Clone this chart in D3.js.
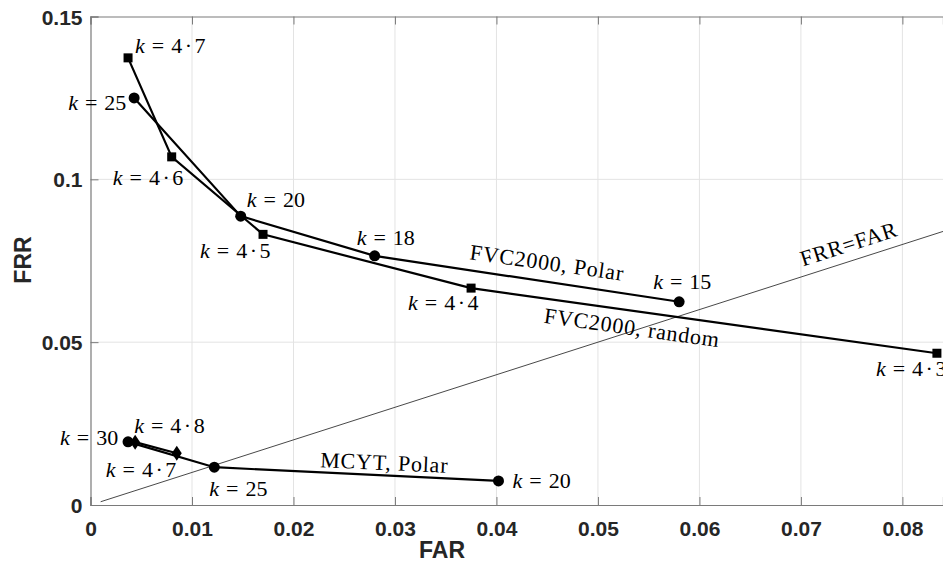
<!DOCTYPE html>
<html lang="en">
<head>
  <meta charset="UTF-8" />
  <title>FAR vs FRR</title>
  <style>
    body { margin: 0; background: #fff; }
    .tick-label { font-family: "Liberation Sans", Arial, sans-serif; font-weight: bold; font-size: 21px; fill: #262626; }
    .axis-title { font-family: "Liberation Sans", Arial, sans-serif; font-weight: bold; font-size: 23px; fill: #262626; }
    .note { font-family: "Liberation Serif", "Times New Roman", serif; font-size: 22px; fill: #000; }
    .data-line { fill: none; stroke: #000; stroke-width: 2.2px; }
  </style>
</head>
<body>
  <script src="https://cdn.jsdelivr.net/npm/d3@7"></script>
  <script>
    // values
    var xTicks = [0, 0.01, 0.02, 0.03, 0.04, 0.05, 0.06, 0.07, 0.08];
    var xTickLabels = ["0", "0.01", "0.02", "0.03", "0.04", "0.05", "0.06", "0.07", "0.08"];
    var yTicks = [0, 0.05, 0.1, 0.15];
    var yTickLabels = ["0", "0.05", "0.1", "0.15"];

    var fvcRandomFAR = [0.0037, 0.0080, 0.0170, 0.0375, 0.0834];
    var fvcRandomFRR = [0.1373, 0.1069, 0.0831, 0.0666, 0.0466];
    var fvcRandomK = ["4·7", "4·6", "4·5", "4·4", "4·3"];

    var fvcPolarFAR = [0.0043, 0.0148, 0.0280, 0.0580];
    var fvcPolarFRR = [0.1250, 0.0887, 0.0765, 0.0624];
    var fvcPolarK = ["25", "20", "18", "15"];

    var mcytPolarFAR = [0.0037, 0.0122, 0.0402];
    var mcytPolarFRR = [0.0194, 0.0116, 0.0074];
    var mcytPolarK = ["30", "25", "20"];

    var mcytRandomFAR = [0.0044, 0.0085];
    var mcytRandomFRR = [0.0193, 0.0159];
    var mcytRandomK = ["4·8", "4·7"];

    var equalRate = [0.001, 0.09];

    // label offsets from the marker, in pixels
    var fvcRandomOff = [[7, -5], [-59, 28], [-63, 24], [-63, 22], [-61, 23]];
    var fvcPolarOff = [[-66, 12], [6, -9], [-18, -11], [-26, -13]];
    var mcytPolarOff = [[-68, 3], [-5, 29], [14, 7]];
    var mcytRandomOff = [[-1, -9], [-71, 24]];

    var w = 943;
    var h = 565;
    var margin = { top: 16.5, right: 0, bottom: 60, left: 90.5 };

    var svg = d3.select("body").append("svg")
      .attr("width", w)
      .attr("height", h);

    var xScale = d3.scaleLinear().domain([0, 0.084]).range([margin.left, w - margin.right]);
    var yScale = d3.scaleLinear().domain([0, 0.15]).range([h - margin.bottom, margin.top]);

    svg.append("clipPath").attr("id", "plot-clip")
      .append("rect")
      .attr("x", margin.left).attr("y", margin.top)
      .attr("width", w - margin.left - margin.right)
      .attr("height", yScale(0) - margin.top);

    // grid
    svg.selectAll(".vgrid").data(xTicks.slice(1)).enter().append("line")
      .attr("x1", function(d) { return xScale(d); })
      .attr("x2", function(d) { return xScale(d); })
      .attr("y1", yScale(0)).attr("y2", yScale(0.15))
      .attr("stroke", "#e3e3e3").attr("stroke-width", 1);
    svg.selectAll(".hgrid").data(yTicks.slice(1, 3)).enter().append("line")
      .attr("y1", function(d) { return yScale(d); })
      .attr("y2", function(d) { return yScale(d); })
      .attr("x1", xScale(0)).attr("x2", w)
      .attr("stroke", "#e3e3e3").attr("stroke-width", 1);

    // axes built by d3 then restyled
    var xAxis = d3.axisBottom(xScale).tickValues(xTicks).tickSize(-8).tickFormat(function(d, i) { return xTickLabels[i]; });
    var xTop = d3.axisTop(xScale).tickValues(xTicks).tickSize(-8).tickFormat("");
    var yAxis = d3.axisLeft(yScale).tickValues(yTicks).tickSize(-8).tickFormat(function(d, i) { return yTickLabels[i]; });

    var gx = svg.append("g").attr("transform", "translate(0," + yScale(0) + ")").call(xAxis);
    var gt = svg.append("g").attr("transform", "translate(0," + yScale(0.15) + ")").call(xTop);
    var gy = svg.append("g").attr("transform", "translate(" + xScale(0) + ",0)").call(yAxis);

    [gx, gt, gy].forEach(function(g) {
      g.select(".domain").attr("stroke", "#7a7a7a").attr("stroke-width", 1.2);
      g.selectAll(".tick line").attr("stroke", "#7a7a7a");
      g.selectAll("text").attr("class", "tick-label").attr("font-size", null).attr("font-family", null).attr("fill", null);
    });
    gx.selectAll(".tick text").attr("y", 31).attr("dy", null);
    gy.selectAll(".tick text").attr("x", -8).attr("dy", "0.36em");

    svg.append("text").attr("class", "axis-title")
      .attr("x", 442).attr("y", 558)
      .attr("text-anchor", "middle")
      .text("FAR");
    svg.append("text").attr("class", "axis-title")
      .attr("transform", "translate(30.5,260) rotate(-90)")
      .attr("text-anchor", "middle")
      .text("FRR");

    // FRR = FAR reference line
    svg.append("line")
      .attr("clip-path", "url(#plot-clip)")
      .attr("x1", xScale(equalRate[0])).attr("y1", yScale(equalRate[0]))
      .attr("x2", xScale(equalRate[1])).attr("y2", yScale(equalRate[1]))
      .attr("stroke", "#333").attr("stroke-width", 0.9);

    function pts(xs, ys, ks) {
      return xs.map(function(x, i) { return { x: x, y: ys[i], k: ks[i] }; });
    }

    var line = d3.line()
      .x(function(d) { return xScale(d.x); })
      .y(function(d) { return yScale(d.y); });

    var series = [
      { data: pts(fvcRandomFAR, fvcRandomFRR, fvcRandomK), marker: "square", off: fvcRandomOff },
      { data: pts(fvcPolarFAR, fvcPolarFRR, fvcPolarK), marker: "circle", off: fvcPolarOff },
      { data: pts(mcytRandomFAR, mcytRandomFRR, mcytRandomK), marker: "diamond", off: mcytRandomOff },
      { data: pts(mcytPolarFAR, mcytPolarFRR, mcytPolarK), marker: "circle", off: mcytPolarOff }
    ];

    series.forEach(function(s) {
      svg.append("path").datum(s.data).attr("class", "data-line").attr("d", line);
    });

    series.forEach(function(s) {
      var g = svg.append("g");
      s.data.forEach(function(d) {
        var cx = xScale(d.x), cy = yScale(d.y);
        if (s.marker == "circle") {
          g.append("circle").attr("cx", cx).attr("cy", cy).attr("r", 5.5).attr("fill", "#000");
        } else if (s.marker == "square") {
          g.append("rect").attr("x", cx - 4.5).attr("y", cy - 4.5).attr("width", 9).attr("height", 9).attr("fill", "#000");
        } else {
          g.append("path")
            .attr("d", "M" + cx + "," + (cy - 7.5) + "L" + (cx + 5) + "," + cy + "L" + cx + "," + (cy + 7.5) + "L" + (cx - 5) + "," + cy + "Z")
            .attr("fill", "#000");
        }
      });
    });

    // k = ... annotations
    function kLabel(x, y, value) {
      var t = svg.append("text").attr("class", "note").attr("x", x).attr("y", y);
      t.append("tspan").attr("font-style", "italic").text("k");
      t.append("tspan").attr("dx", 7).text("=");
      var parts = value.split("·");
      t.append("tspan").attr("dx", 7).text(parts[0]);
      if (parts.length > 1) {
        t.append("tspan").attr("dx", 2.5).text("·");
        t.append("tspan").attr("dx", 2.5).text(parts[1]);
      }
    }

    series.forEach(function(s) {
      s.data.forEach(function(d, i) {
        kLabel(xScale(d.x) + s.off[i][0], yScale(d.y) + s.off[i][1], d.k);
      });
    });

    // curve names along the lines
    function note(x, y, angle, txt) {
      svg.append("text").attr("class", "note")
        .attr("text-anchor", "middle")
        .attr("letter-spacing", 0.8)
        .attr("transform", "translate(" + x + "," + y + ") rotate(" + angle + ")")
        .text(txt);
    }
    note(546, 270, 8, "FVC2000, Polar");
    note(631, 335, 8, "FVC2000, random");
    note(851, 251, -17.8, "FRR=FAR");
    note(384, 470, 2.5, "MCYT, Polar");
  </script>
</body>
</html>
